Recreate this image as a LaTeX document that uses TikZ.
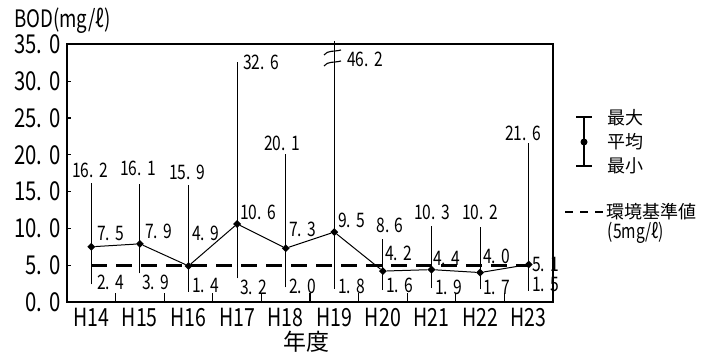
\documentclass[tikz,border=0pt]{standalone}
\usepackage{fontspec}
\setmainfont{Noto Sans CJK JP}
\newfontfamily\numf[FakeStretch=0.78]{Noto Sans CJK JP}
\usetikzlibrary{shapes.geometric}
\def\nmaux#1.#2\relax{#1.\kern0.28em#2}
\newcommand\nm[1]{\expandafter\nmaux#1\relax}
\begin{document}
\begin{tikzpicture}[x=1pt,y=-1pt,
  frame/.style={line width=2.2pt},
  bar/.style={line width=1.1pt},
  tick/.style={line width=1.2pt},
  avgline/.style={line width=1pt},
  mk/.style={diamond,fill=black,inner sep=0pt,minimum size=8pt},
  std/.style={line width=3pt,dash pattern=on 16pt off 9pt},
  dl/.style={font=\numf\fontsize{20}{22}\selectfont,inner sep=0pt},
  yl/.style={font=\numf\fontsize{26}{28}\selectfont,inner sep=0pt,anchor=east},
  xl/.style={font=\numf\fontsize{25}{27}\selectfont,inner sep=0pt},
  jl/.style={font=\fontsize{18}{20}\selectfont,inner sep=0pt},
]
\useasboundingbox (0,0) rectangle (713,356);

% frame
\coordinate (pTL) at (67,44);
\coordinate (pBR) at (553,302);

% y ticks and labels
\foreach \v in {5,10,...,30}{
  \draw[tick] (67,{302-7.36*\v}) -- ++(4,0);
}
\foreach \v/\lab in {0/0.0,5/5.0,10/10.0,15/15.0,20/20.0,25/25.0,30/30.0,35/35.0}{
  \node[yl] (y\v) at (61,{302-7.36*\v}) {\nm{\lab}};
}
% x ticks
\foreach \k in {1,...,9}{
  \draw[tick] ({67+48.6*\k},302) -- ++(0,-9);
}

% data
\foreach \i/\mx/\av/\mn [count=\k from 0] in {14/16.2/7.5/2.4, 15/16.1/7.9/3.9, 16/15.9/4.9/1.4, 17/32.6/10.6/3.2, 18/20.1/7.3/2.0, 19/46.2/9.5/1.8, 20/8.6/4.2/1.6, 21/10.3/4.4/1.9, 22/10.2/4.0/1.7, 23/21.6/5.1/1.5}{
  \pgfmathsetmacro\xx{67+48.6*(\k+0.5)}
  \pgfmathsetmacro\yt{max(41,302-7.36*\mx)}
  \coordinate (t\i) at (\xx,\yt);
  \coordinate (b\i) at (\xx,{302-7.36*\mn});
  \coordinate (s\i) at (\xx,{302-7.36*5});
  \draw[bar] (b\i) -- (t\i);
  \node[mk] (m\i) at (\xx,{302-7.36*\av}) {};
  \node[xl] (h\i) at (\xx,317) {H\i};
}
\draw[avgline] (m14) -- (m15) -- (m16) -- (m17) -- (m18) -- (m19) -- (m20) -- (m21) -- (m22) -- (m23);
\draw[std] (s14) -- (s23);

\draw[frame] (pTL) rectangle (pBR);

% break mark on H19
\draw[bar] (324,55) .. controls (328,50) and (333,52) .. (341,50);
\draw[bar] (324,66) .. controls (328,61) and (333,63) .. (341,61);

% max labels
\node[dl] (x14) at (90,170) {\nm{16.2}};
\node[dl] (x15) at (138,168) {\nm{16.1}};
\node[dl] (x16) at (187,172) {\nm{15.9}};
\node[dl,anchor=west] (x17) at (243,62) {\nm{32.6}};
\node[dl] (x18) at (282,143) {\nm{20.1}};
\node[dl,anchor=west] (x19) at (347,59) {\nm{46.2}};
\node[dl] (x20) at (390,225) {\nm{8.6}};
\node[dl] (x21) at (432,212) {\nm{10.3}};
\node[dl] (x22) at (480,212) {\nm{10.2}};
\node[dl] (x23) at (523,133) {\nm{21.6}};

% mean labels
\node[dl,anchor=west] (a14) at (97,233) {\nm{7.5}};
\node[dl,anchor=west] (a15) at (145,231) {\nm{7.9}};
\node[dl,anchor=west] (a16) at (192,233) {\nm{4.9}};
\node[dl,anchor=west] (a17) at (240,212) {\nm{10.6}};
\node[dl,anchor=west] (a18) at (289,229) {\nm{7.3}};
\node[dl,anchor=west] (a19) at (338,220) {\nm{9.5}};
\node[dl,anchor=west] (a20) at (385,253) {\nm{4.2}};
\node[dl,anchor=west] (a21) at (433,258) {\nm{4.4}};
\node[dl,anchor=west] (a22) at (483,256) {\nm{4.0}};
\node[dl,anchor=west] (a23) at (532,264) {\nm{5.1}};

% min labels
\node[dl,anchor=west] (n14) at (97,282) {\nm{2.4}};
\node[dl,anchor=west] (n15) at (142,282) {\nm{3.9}};
\node[dl,anchor=west] (n16) at (192,285) {\nm{1.4}};
\node[dl,anchor=west] (n17) at (240,287) {\nm{3.2}};
\node[dl,anchor=west] (n18) at (289,286) {\nm{2.0}};
\node[dl,anchor=west] (n19) at (338,286) {\nm{1.8}};
\node[dl,anchor=west] (n20) at (386,285) {\nm{1.6}};
\node[dl,anchor=west] (n21) at (435,287) {\nm{1.9}};
\node[dl,anchor=west] (n22) at (483,287) {\nm{1.7}};
\node[dl,anchor=west] (n23) at (532,284) {\nm{1.5}};

% axis titles
\node[anchor=west,font=\numf\fontsize{24}{26}\selectfont,inner sep=0pt] (ylab) at (14,21) {BOD(mg/ℓ)};
\node[font=\fontsize{23}{25}\selectfont,inner sep=0pt] (xlab) at (306,342) {年度};

% legend
\coordinate (lt) at (584,117);
\coordinate (lb) at (584,166);
\coordinate (ltl) at (576,117);
\coordinate (ltr) at (592,117);
\coordinate (lbl) at (576,166);
\coordinate (lbr) at (592,166);
\draw[line width=1.5pt] (lt) -- (lb);
\draw[line width=1.5pt] (ltl) -- (ltr);
\draw[line width=1.5pt] (lbl) -- (lbr);
\node[circle,fill=black,inner sep=0pt,minimum size=7pt] (ld) at (584,142) {};
\node[jl,anchor=west] (lmax) at (607,118) {最大};
\node[jl,anchor=west] (lavg) at (607,142) {平均};
\node[jl,anchor=west] (lmin) at (607,166) {最小};
\coordinate (lsa) at (565,212);
\coordinate (lsb) at (603,212);
\draw[line width=2.3pt,dash pattern=on 8pt off 7pt] (lsa) -- (lsb);
\node[jl,anchor=west] (lstd) at (606,212) {環境基準値};
\node[font=\numf\fontsize{20}{22}\selectfont,inner sep=0pt] (lstd2) at (636,233) {(5mg/ℓ)};
\end{tikzpicture}
\end{document}
